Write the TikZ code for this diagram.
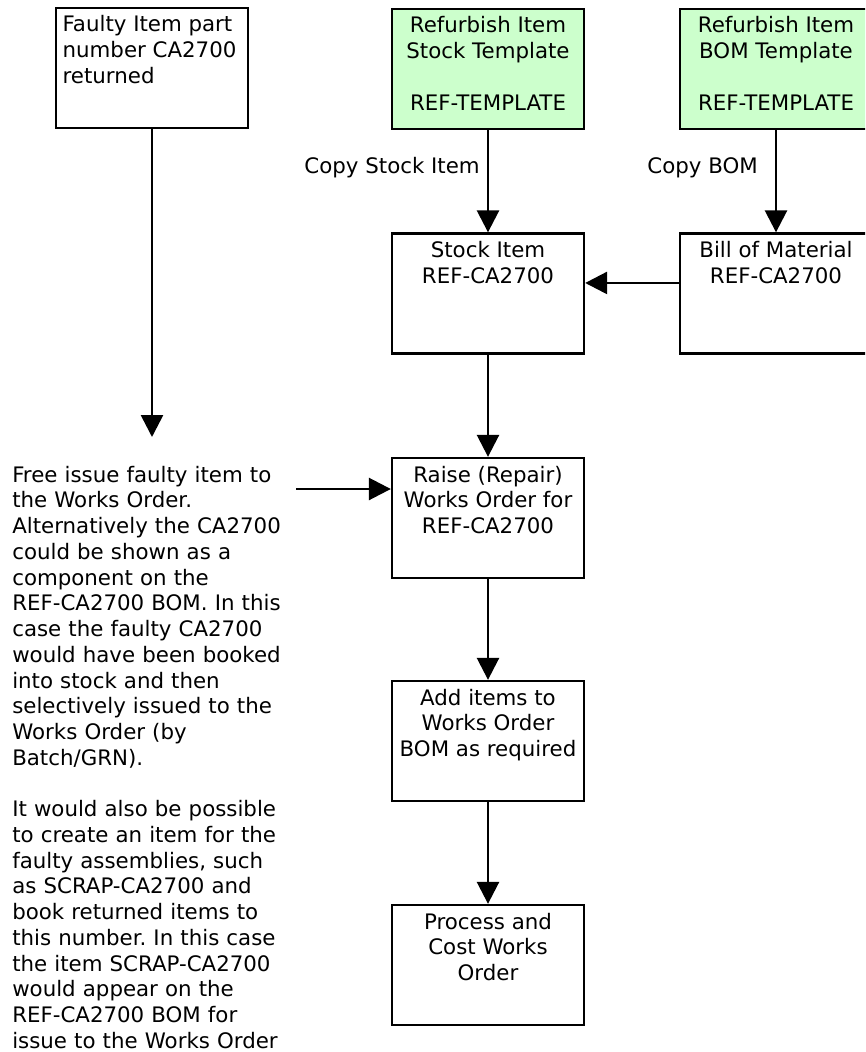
\documentclass[tikz,border=0pt]{standalone}
\usepackage{fontspec}
\setmainfont{DejaVu Sans}
\usepackage{tikz}
\usetikzlibrary{arrows.meta}
\frenchspacing
\definecolor{templategreen}{HTML}{CCFFCC}
\tikzstyle{flowbox}=[
    draw,
    line width=1.75pt,
    minimum width=144pt,
    minimum height=90pt,
    inner sep=0pt,
    font=\fontsize{16}{19.3}\selectfont
]
\tikzstyle{template}=[flowbox, fill=templategreen]
\tikzstyle{flow}=[line width=2pt, -{Triangle[length=16.5pt,width=16.5pt]}]
\tikzstyle{plaintext}=[inner sep=0pt, font=\fontsize{16}{19.3}\selectfont]
\newcommand{\boxlines}[2]{\parbox[t][90pt][t]{144pt}{#1\rule{0pt}{18pt}#2}}

\begin{document}
\begin{tikzpicture}[x=0.75pt,y=-0.75pt]
        \useasboundingbox (0,0) rectangle (865,1052);
        \clip (0,0) rectangle (865,1052);

        % top row
        \node[flowbox] (faulty) at (152,68)
            {\boxlines{\raggedright\leftskip=5pt}{Faulty Item part\\number CA2700\\returned}};
        \node[template] (stocktpl) at (488,69)
            {\boxlines{\centering}{Refurbish Item\\Stock Template\\[19.3pt]REF-TEMPLATE}};
        \node[template] (bomtpl) at (776,69)
            {\boxlines{\centering}{Refurbish Item\\BOM Template\\[19.3pt]REF-TEMPLATE}};

        % copied items
        \node[flowbox] (stock) at (488,293.5)
            {\boxlines{\centering}{Stock Item\\REF-CA2700}};
        \node[flowbox] (bill) at (776,293.5)
            {\boxlines{\centering}{Bill of Material\\REF-CA2700}};

        \node[plaintext, anchor=base east] (copystock) at (480,173) {Copy Stock Item};
        \node[plaintext, anchor=base east] (copybom) at (758,173) {Copy BOM};

        % works order
        \node[flowbox] (raise) at (488,518)
            {\boxlines{\centering}{Raise (Repair)\\Works Order for\\REF-CA2700}};
        \node[flowbox] (additems) at (488,741)
            {\boxlines{\centering}{Add items to\\Works Order\\BOM as required}};
        \node[flowbox] (process) at (488,965)
            {\boxlines{\centering}{Process and\\Cost Works\\Order}};

        % note
        \node[plaintext, anchor=north west, text width=225pt, align=left] (note) at (12,465.3)
            {\rule{0pt}{12.5pt}Free issue faulty item to\\
            the Works Order.\\
            Alternatively the CA2700\\
            could be shown as a\\
            component on the\\
            REF-CA2700 BOM. In this\\
            case the faulty CA2700\\
            would have been booked\\
            into stock and then\\
            selectively issued to the\\
            Works Order (by\\
            Batch/GRN).\\[19.3pt]
            It would also be possible\\
            to create an item for the\\
            faulty assemblies, such\\
            as SCRAP-CA2700 and\\
            book returned items to\\
            this number. In this case\\
            the item SCRAP-CA2700\\
            would appear on the\\
            REF-CA2700 BOM for\\
            issue to the Works Order};

        % arrows
        \coordinate (issueend) at (152,437);
        \coordinate (notestart) at (296,489);
        \draw[flow] (faulty.south) -- (issueend);
        \draw[flow] (stocktpl) -- (stock);
        \draw[flow] (bomtpl) -- (bill);
        \draw[flow] ([yshift=7.9pt]bill.west) -- ([yshift=7.9pt]stock.east);
        \draw[flow] (stock) -- (raise);
        \draw[flow] (notestart) -- (notestart -| raise.west);
        \draw[flow] (raise) -- (additems);
        \draw[flow] (additems) -- (process);

    \end{tikzpicture}
\end{document}
